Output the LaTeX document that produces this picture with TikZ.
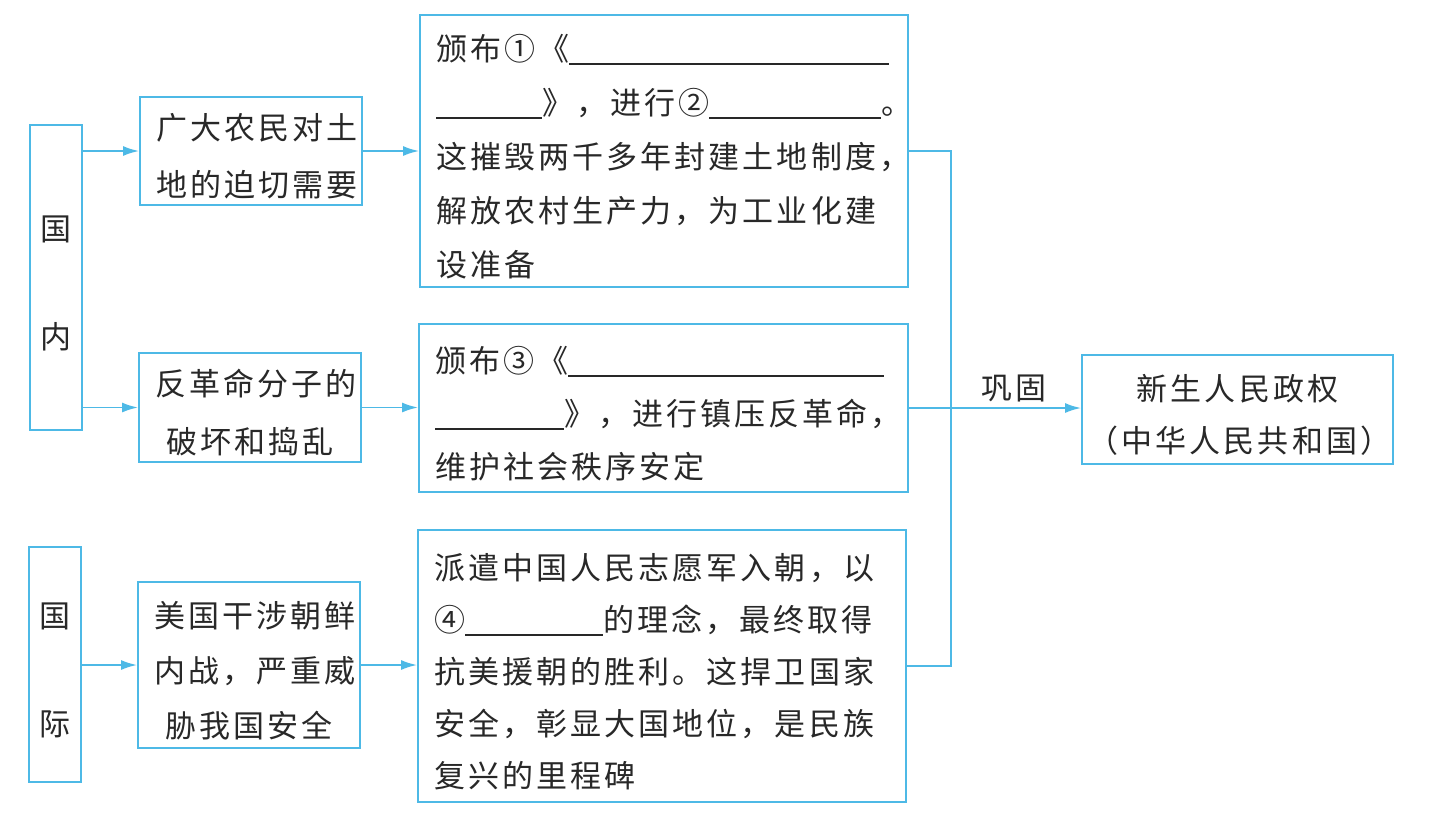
\documentclass[tikz,border=0pt]{standalone}
\usepackage{fontspec}
\newfontfamily\cjk[LetterSpace=10]{Noto Sans CJK SC}
\usetikzlibrary{arrows.meta}
\definecolor{ln}{RGB}{77,185,230}
\definecolor{tx}{RGB}{40,40,40}
\newcommand{\blank}[1]{\rule[-5pt]{#1pt}{1.8pt}}
\newcommand{\tp}{\rule{0pt}{37pt}}
\begin{document}
\begin{tikzpicture}[x=1pt,y=-1pt,
  box/.style={draw=ln,line width=1.9pt,text=tx,inner xsep=16pt,inner ysep=0pt,
    font=\cjk\fontsize{31pt}{54pt}\selectfont},
  lbox/.style={box,align=left},
  cbox/.style={box,align=center},
  conn/.style={draw=ln,line width=1.9pt,-{Latex[length=16pt,width=10pt]}},
  wire/.style={draw=ln,line width=1.9pt},
  lbl/.style={text=tx,inner sep=0pt,font=\cjk\fontsize{31pt}{54pt}\selectfont}]
\useasboundingbox (0,0) rectangle (1435,820);
\fill[white] (0,0) rectangle (1435,820);
% side boxes
\node[box,inner xsep=0pt,minimum width=52pt,minimum height=305pt,text width=52pt,align=center,
  font=\cjk\fontsize{31pt}{108pt}\selectfont] (GN) at (56,277.5) {\tp 国\\内};
\node[box,inner xsep=0pt,minimum width=52pt,minimum height=235pt,text width=52pt,align=center,
  font=\cjk\fontsize{31pt}{108pt}\selectfont] (GJ) at (55,664.5) {\tp 国\\际};
% cause boxes
\node[cbox,minimum width=222pt,minimum height=108pt,text width=190pt,
  font=\cjk\fontsize{31pt}{57pt}\selectfont] (A) at (251,151) {\tp 广大农民对土\\地的迫切需要};
\node[cbox,minimum width=222pt,minimum height=109pt,text width=190pt,
  font=\cjk\fontsize{31pt}{58pt}\selectfont] (B) at (250,407.5) {\tp 反革命分子的\\破坏和捣乱};
\node[cbox,minimum width=222pt,minimum height=166pt,text width=190pt,
  font=\cjk\fontsize{31pt}{55pt}\selectfont] (C) at (249,665) {\tp 美国干涉朝鲜\\内战，严重威\\胁我国安全};
% measure boxes
\node[lbox,minimum width=488pt,minimum height=272pt,text width=456pt] (D) at (664,151)
  {\tp 颁布①《\blank{320}\\
   \blank{106}》，进行②\blank{172}。\\
   这摧毁两千多年封建土地制度，\\
   解放农村生产力，为工业化建\\
   设准备};
\node[lbox,minimum width=489pt,minimum height=168pt,text width=457pt,
  font=\cjk\fontsize{31pt}{53pt}\selectfont] (E) at (663.5,408)
  {\tp 颁布③《\blank{316}\\
   \blank{129}》，进行镇压反革命，\\
   维护社会秩序安定};
\node[lbox,minimum width=488pt,minimum height=272pt,text width=456pt,
  font=\cjk\fontsize{31pt}{52pt}\selectfont] (F) at (662,666)
  {\tp 派遣中国人民志愿军入朝，以\\
   ④\blank{138}的理念，最终取得\\
   抗美援朝的胜利。这捍卫国家\\
   安全，彰显大国地位，是民族\\
   复兴的里程碑};
% result box
\node[cbox,minimum width=311pt,minimum height=109pt,text width=300pt,inner xsep=5pt,
  font=\cjk\fontsize{31pt}{52pt}\selectfont] (G) at (1237.5,409.5) {\tp 新生人民政权\\（中华人民共和国）};
% connectors
\draw[conn] (GN.east |- A.west) -- (A.west);
\draw[conn] (GN.east |- B.west) -- (B.west);
\draw[conn] (GJ.east |- C.west) -- (C.west);
\draw[conn] (A.east) -- (A.east -| D.west);
\draw[conn] (B.east) -- (B.east -| E.west);
\draw[conn] (C.east) -- (C.east -| F.west);
\coordinate (J) at (951,408);
\draw[wire] (D.east) -- (D.east -| J) -- (F.east -| J) -- (F.east);
\draw[wire] (E.east) -- (E.east -| J);
\draw[conn] (J) -- (J -| G.west);
\node[lbl] (L) at (1014,388) {巩固};
\end{tikzpicture}
\end{document}
